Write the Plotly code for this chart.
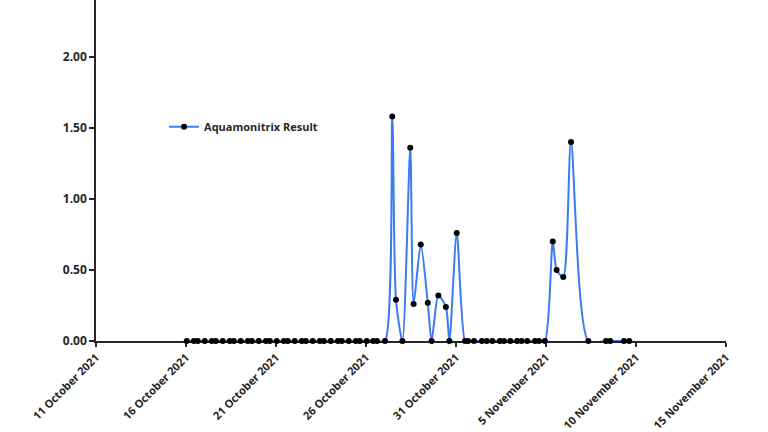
import plotly.graph_objects as go

# Sample timestamps and Aquamonitrix results
sample_times = [
    "2021-10-16 01:00", "2021-10-16 10:30", "2021-10-16 15:45",
    "2021-10-17 01:00", "2021-10-17 10:30", "2021-10-17 15:45",
    "2021-10-18 01:00", "2021-10-18 10:30", "2021-10-18 15:45",
    "2021-10-19 01:00", "2021-10-19 10:30", "2021-10-19 15:45",
    "2021-10-20 01:00", "2021-10-20 10:30", "2021-10-20 15:45",
    "2021-10-21 01:00", "2021-10-21 10:30", "2021-10-21 15:45",
    "2021-10-22 01:00", "2021-10-22 10:30", "2021-10-22 15:45",
    "2021-10-23 01:00", "2021-10-23 10:30", "2021-10-23 15:45",
    "2021-10-24 01:00", "2021-10-24 10:30", "2021-10-24 15:45",
    "2021-10-25 01:00", "2021-10-25 10:30", "2021-10-25 15:45",
    "2021-10-26 01:00", "2021-10-26 09:30", "2021-10-26 14:40",
    "2021-10-27 01:20", "2021-10-27 11:00", "2021-10-27 16:00",
    "2021-10-28 00:30", "2021-10-28 11:00", "2021-10-28 15:30",
    "2021-10-29 01:00", "2021-10-29 10:20", "2021-10-29 15:30",
    "2021-10-30 00:30", "2021-10-30 10:30", "2021-10-30 15:10",
    "2021-10-31 01:00", "2021-10-31 12:00", "2021-10-31 16:00",
    "2021-11-01 00:00", "2021-11-01 10:30", "2021-11-01 17:00",
    "2021-11-02 00:30", "2021-11-02 10:30", "2021-11-02 16:00",
    "2021-11-03 00:30", "2021-11-03 09:30", "2021-11-03 15:30",
    "2021-11-03 23:00", "2021-11-04 09:20", "2021-11-04 14:40",
    "2021-11-04 22:30", "2021-11-05 09:00", "2021-11-05 14:10",
    "2021-11-05 23:00", "2021-11-06 09:20", "2021-11-07 08:25",
    "2021-11-08 08:00", "2021-11-08 13:30",
    "2021-11-09 08:00", "2021-11-09 15:00",
]
results = [
    0, 0, 0,
    0, 0, 0,
    0, 0, 0,
    0, 0, 0,
    0, 0, 0,
    0, 0, 0,
    0, 0, 0,
    0, 0, 0,
    0, 0, 0,
    0, 0, 0,
    0, 0, 0,
    0, 1.58, 0.29,
    0, 1.36, 0.26,
    0.68, 0.27, 0,
    0.32, 0.24, 0,
    0.76, 0, 0,
    0, 0, 0,
    0, 0, 0,
    0, 0, 0,
    0, 0, 0,
    0, 0.70, 0.50,
    0.45, 1.40, 0,
    0, 0,
    0, 0,
]
series_name = "Aquamonitrix Result"
x_range = ["2021-10-11", "2021-11-15"]
y_ticks = [0, 0.5, 1.0, 1.5, 2.0]

font_family = "Open Sans, Lato, sans-serif"
txt_color = "#262626"

fig = go.Figure()
fig.add_trace(go.Scatter(
    x=sample_times, y=results, name=series_name,
    mode="lines+markers",
    line=dict(color="#3C7CF2", width=2, shape="spline", smoothing=0.7),
    marker=dict(color="black", size=6),
    cliponaxis=False,
))

fig.update_layout(
    width=768, height=432,
    margin=dict(l=96, r=42, t=0, b=91),
    paper_bgcolor="white", plot_bgcolor="white",
    showlegend=True,
    legend=dict(x=0.108, y=0.628, xanchor="left", yanchor="middle",
                font=dict(family=font_family, size=11, color=txt_color, weight="bold"),
                bgcolor="rgba(0,0,0,0)", itemwidth=30),
    font=dict(family=font_family, color=txt_color),
)
fig.update_xaxes(
    type="date", range=x_range, automargin=False,
    tick0="2021-10-11", dtick=5 * 86400000,
    tickformat="%-d %B %Y", tickangle=-45,
    tickfont=dict(family=font_family, size=11, color=txt_color, weight="bold"),
    showgrid=False, zeroline=False,
    showline=True, linecolor="#262626", linewidth=1.5,
    ticks="outside", ticklen=4, tickcolor="#262626", tickwidth=1.5,
    layer="below traces",
)
fig.update_yaxes(
    range=[0, 2.4], automargin=False,
    tickvals=y_ticks, tickformat=".2f",
    tickfont=dict(family=font_family, size=12, color=txt_color, weight="bold"),
    showgrid=False, zeroline=False,
    showline=True, linecolor="#262626", linewidth=1.5,
    ticks="outside", ticklen=5, tickcolor="#262626", tickwidth=1.5,
    layer="below traces",
)

fig.write_html("out.html")
